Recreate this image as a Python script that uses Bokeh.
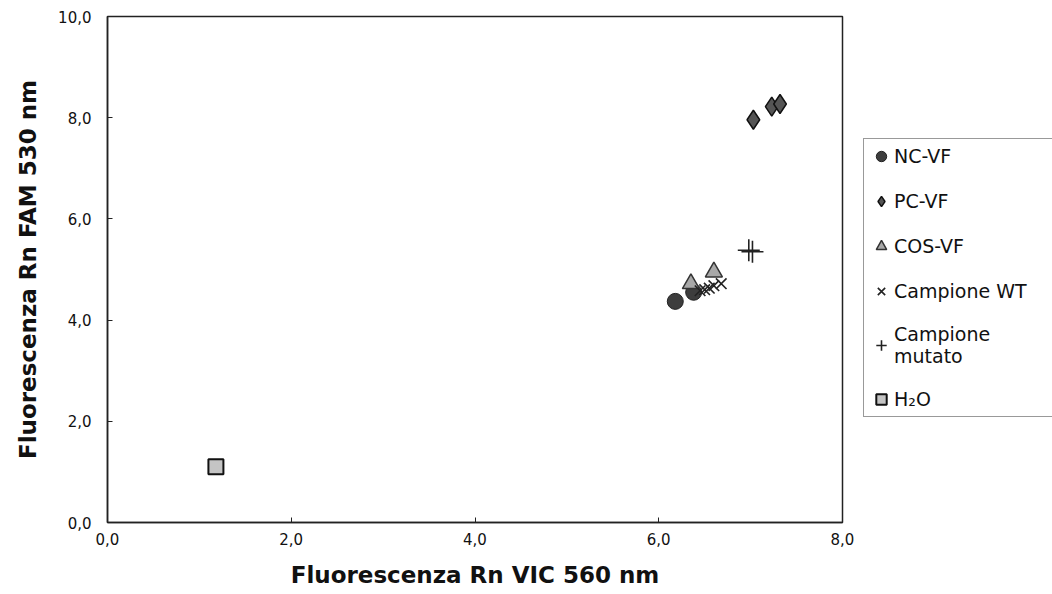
from bokeh.plotting import figure
from bokeh.layouts import row
from bokeh.models import Range1d, FixedTicker, Legend, LegendItem
from bokeh.embed import file_html
from bokeh.resources import INLINE

# Data (VIC 560 nm on x, FAM 530 nm on y)
nc_x = [6.18, 6.38]
nc_y = [4.37, 4.55]
pc_x = [7.03, 7.23, 7.32]
pc_y = [7.96, 8.22, 8.27]
cos_x = [6.35, 6.60]
cos_y = [4.72, 4.95]
wt_x = [6.45, 6.50, 6.55, 6.60, 6.68]
wt_y = [4.58, 4.60, 4.63, 4.68, 4.72]
mut_x = [6.98, 7.02]
mut_y = [5.38, 5.35]
h2o_x = [1.18]
h2o_y = [1.10]

series_names = ["NC-VF", "PC-VF", "COS-VF", "Campione WT", "Campione\nmutato", "H₂O"]

x_ticks = [0, 2, 4, 6, 8]
y_ticks = [0, 2, 4, 6, 8, 10]
x_labels = {0: "0,0", 2: "2,0", 4: "4,0", 6: "6,0", 8: "8,0"}
y_labels = {0: "0,0", 2: "2,0", 4: "4,0", 6: "6,0", 8: "8,0", 10: "10,0"}

FONT = "DejaVu Sans"

styles = [
    dict(marker="circle", size=16, fill_color="#3d3d3d", line_color="#222222", line_width=1),
    dict(marker="diamond", size=19, fill_color="#555555", line_color="#111111", line_width=1.5),
    dict(marker="triangle", size=17, fill_color="#a8a8a8", line_color="#333333", line_width=1.5),
    dict(marker="x", size=15, line_color="#222222", line_width=1.6),
    dict(marker="cross", size=22, line_color="#222222", line_width=1.6),
    dict(marker="square", size=15, fill_color="#c4c4c4", line_color="#111111", line_width=2),
]
data = [(nc_x, nc_y), (pc_x, pc_y), (cos_x, cos_y), (wt_x, wt_y), (mut_x, mut_y), (h2o_x, h2o_y)]

p = figure(frame_width=735, frame_height=506, output_backend="svg", toolbar_location=None,
           x_range=Range1d(0, 8), y_range=Range1d(0, 10),
           min_border_left=107, min_border_top=16, min_border_bottom=72,
           min_border_right=20)
p.grid.visible = False
p.outline_line_color = "#222222"
p.outline_line_width = 1.5

for ax in (p.xaxis[0], p.yaxis[0]):
    ax.major_tick_in = 5
    ax.major_tick_out = 0
    ax.minor_tick_in = 0
    ax.minor_tick_out = 0
    ax.axis_line_color = "#222222"
    ax.axis_line_width = 1.5
    ax.major_tick_line_color = "#222222"
    ax.major_label_text_font = FONT
    ax.major_label_text_font_size = "15px"
    ax.major_label_text_color = "#111111"
    ax.axis_label_text_font = FONT
    ax.axis_label_text_font_style = "bold"
    ax.axis_label_text_font_size = "23px"
    ax.axis_label_text_color = "#111111"

p.xaxis[0].ticker = FixedTicker(ticks=x_ticks)
p.xaxis[0].major_label_overrides = x_labels
p.xaxis[0].axis_label = "Fluorescenza Rn VIC 560 nm"
p.xaxis[0].major_label_standoff = 10
p.xaxis[0].axis_label_standoff = 14
p.yaxis[0].ticker = FixedTicker(ticks=y_ticks)
p.yaxis[0].major_label_overrides = y_labels
p.yaxis[0].axis_label = "Fluorescenza Rn FAM 530 nm"
p.yaxis[0].major_label_standoff = 16
p.yaxis[0].axis_label_standoff = 14

for (xs, ys), st in zip(data, styles):
    p.scatter(xs, ys, **st)

# Legend panel (separate canvas to the right of the plot); its ranges keep the
# series' points out of view so only the legend swatches show.
lf = figure(width=190, height=594, output_backend="svg", toolbar_location=None,
            x_range=Range1d(0, 1), y_range=Range1d(0, 1),
            min_border=0, min_border_left=0, min_border_right=0,
            min_border_top=0, min_border_bottom=0)
lf.xaxis.visible = False
lf.yaxis.visible = False
lf.grid.visible = False
lf.outline_line_color = None

items = []
for name, (xs, ys), st in zip(series_names, data, styles):
    r = lf.scatter(xs, ys, **st)
    items.append(LegendItem(label=name, renderers=[r]))

legend = Legend(items=items, location=(1, 105))
legend.margin = 0
legend.padding = 4
legend.spacing = 19
legend.glyph_width = 26
legend.glyph_height = 26
legend.label_standoff = 0
legend.label_width = 175
legend.label_text_font = FONT
legend.label_text_font_size = "19px"
legend.label_text_color = "#111111"
legend.border_line_color = "#333333"
legend.border_line_width = 1.5
legend.background_fill_alpha = 1
lf.add_layout(legend, "center")

layout = row(p, lf, spacing=0)
open("out.html", "w").write(file_html(layout, INLINE))
